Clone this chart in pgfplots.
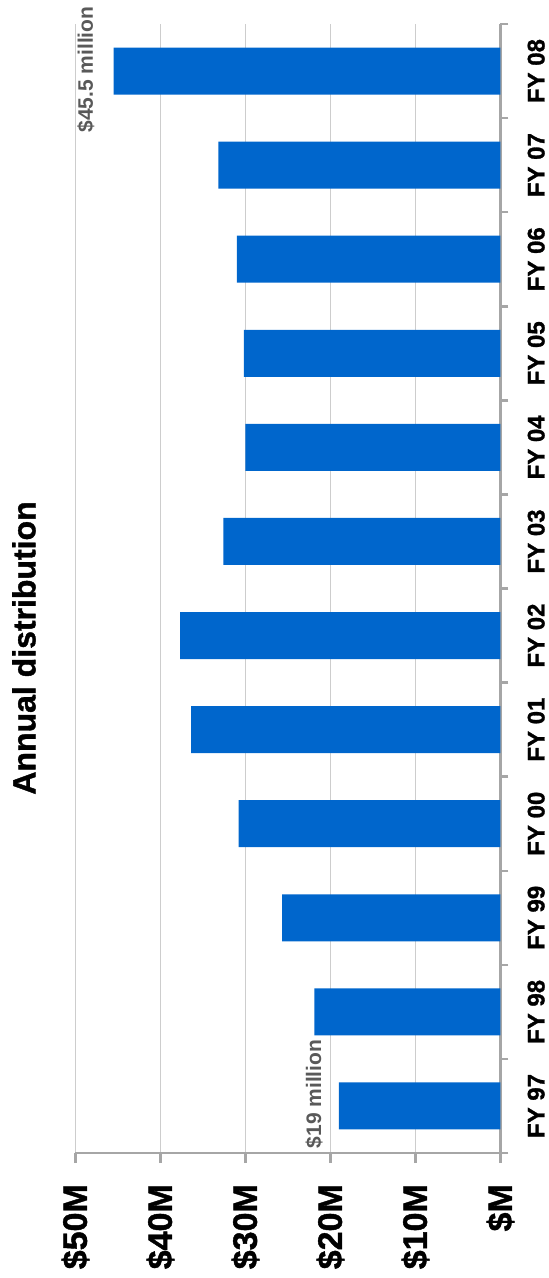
\documentclass[border=0pt]{standalone}
\usepackage{pgfplots}
\pgfplotsset{compat=1.18}
\usepackage{pgfplotstable}
\usepackage{fontspec}
\setmainfont{Liberation Sans}
\newfontfamily\heavy[FakeBold=1.2]{Liberation Sans Bold}

\definecolor{barblue}{RGB}{0,102,204}
\definecolor{axisgray}{RGB}{166,166,166}
\definecolor{gridgray}{RGB}{205,205,205}
\definecolor{notegray}{RGB}{89,89,89}

% Annual distribution, in millions of dollars (0 = FY 97 ... 11 = FY 08)
\pgfplotstableread{
cat value
0  19.0
1  21.9
2  25.7
3  30.8
4  36.4
5  37.7
6  32.6
7  30.0
8  30.2
9  31.0
10 33.2
11 45.5
}\distribution

\begin{document}
\begin{tikzpicture}
\begin{axis}[
  scale only axis,
  width=425pt, height=1129pt,
  xbar, bar width=47pt, bar shift=0pt,
  x dir=reverse,
  xmin=0, xmax=50,
  ymin=-0.5, ymax=11.5,
  axis x line*=bottom,
  axis y line*=right,
  axis line style={draw=axisgray, line width=2.5pt},
  tick align=outside,
  xtick={0,10,20,30,40,50},
  xticklabels={\$M,\$10M,\$20M,\$30M,\$40M,\$50M},
  ytick={0,1,2,3,4,5,6,7,8,9,10,11},
  yticklabels={FY 97,FY 98,FY 99,FY 00,FY 01,FY 02,FY 03,FY 04,FY 05,FY 06,FY 07,FY 08},
  minor ytick={-0.5,0.5,...,11.5},
  major tick length=10pt,
  minor tick length=8pt,
  major x tick style={draw=axisgray, line width=2.5pt},
  major y tick style={draw=none},
  minor y tick style={draw=axisgray, line width=2.5pt},
  xmajorgrids,
  major grid style={draw=gridgray, line width=1.2pt},
  xticklabel shift=21pt,
  xticklabel style={rotate=90, anchor=east, inner sep=0pt,
    font=\fontsize{34}{40}\heavy},
  yticklabel shift=17pt,
  yticklabel style={rotate=90, anchor=north, inner sep=0pt,
    font=\fontsize{24}{28}\heavy},
  clip=false,
]
\addplot[fill=barblue, draw=none] table[x=value, y=cat] {\distribution};

\node[xshift=-19pt, yshift=1.5pt, rotate=90, anchor=south, inner sep=0pt,
  text=notegray, font=\fontsize{21}{25}\selectfont\bfseries]
  at (axis cs:45.5,11) {\$45.5 million};
\node[xshift=-16pt, yshift=12pt, rotate=90, anchor=south, inner sep=0pt,
  text=notegray, font=\fontsize{21}{25}\selectfont\bfseries]
  at (axis cs:19.0,0) {\$19 million};
\end{axis}

\node[rotate=90, anchor=north, inner sep=0pt,
  font=\fontsize{32}{38}\heavy] at (-63.5pt,505pt) {Annual distribution};

\pgfresetboundingbox
\path[use as bounding box] (-75.5pt,-125pt) rectangle (473.5pt,1153pt);
\end{tikzpicture}
\end{document}
